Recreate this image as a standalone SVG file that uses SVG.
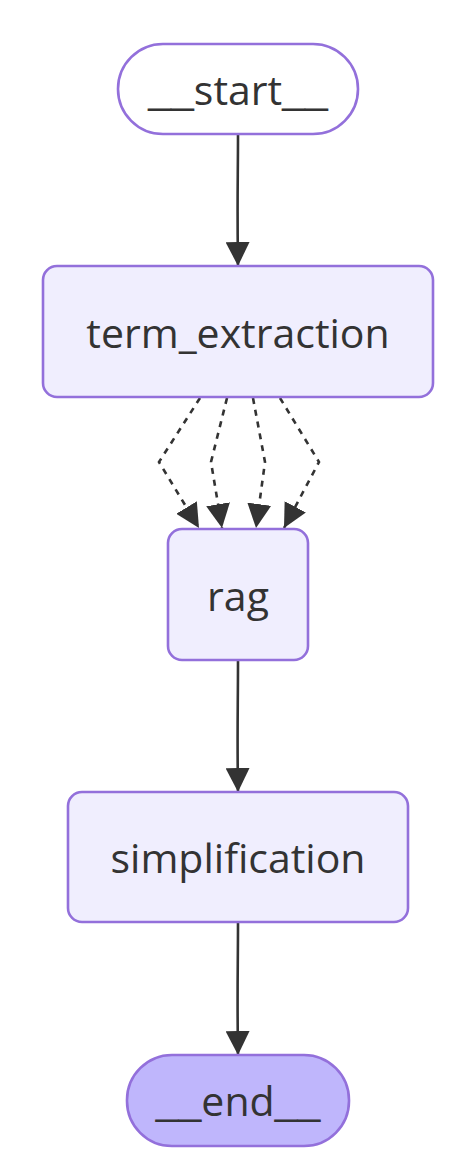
<svg xmlns="http://www.w3.org/2000/svg" width="471" height="1167" viewBox="0 0 471 1167">
<defs>
<style>
.node rect{fill:#f0eefe;stroke:#9370db;stroke-width:2.6}
.term rect{fill:#ffffff}
.end rect{fill:#bfb6fc}
.label{font-family:"Open Sans","Noto Sans",sans-serif;font-size:41px;fill:#333333;text-anchor:middle;dominant-baseline:central}
.us{font-family:"Liberation Sans",sans-serif}
.edge{fill:none;stroke:#333333;stroke-width:2.6}
.dash{stroke-dasharray:6 6}
</style>
<marker id="arrow" viewBox="0 0 10 10" refX="10" refY="5" markerUnits="userSpaceOnUse" markerWidth="24" markerHeight="24" orient="auto">
<path d="M0,0 L10,5 L0,10 z" fill="#333333"/>
</marker>
</defs>
<rect width="471" height="1167" fill="#ffffff"/>
<g id="connectors">
<path class="edge" d="M238,134 C238,180 237,200 238,266" marker-end="url(#arrow)"/>
<path class="edge dash" d="M200,398 L159,462 L199,528" marker-end="url(#arrow)"/>
<path class="edge dash" d="M227,398 L211,462 L222,528" marker-end="url(#arrow)"/>
<path class="edge dash" d="M253,398 L265,462 L256,528" marker-end="url(#arrow)"/>
<path class="edge dash" d="M280,398 L319,462 L284,528" marker-end="url(#arrow)"/>
<path class="edge" d="M238,660 C238,710 237,730 238,792" marker-end="url(#arrow)"/>
<path class="edge" d="M238,922 C238,970 237,990 238,1055" marker-end="url(#arrow)"/>
</g>
<g id="node-start" class="node term">
<rect x="118" y="44" width="240" height="90" rx="45" ry="45"/>
<text class="label" x="238" y="89"><tspan class="us">__</tspan>start<tspan class="us">__</tspan></text>
</g>
<g id="node-term_extraction" class="node">
<rect x="43" y="266" width="390" height="131" rx="14" ry="14"/>
<text class="label" x="238" y="332">term_extraction</text>
</g>
<g id="node-rag" class="node">
<rect x="168" y="529" width="140" height="131" rx="14" ry="14"/>
<text class="label" x="238" y="595">rag</text>
</g>
<g id="node-simplification" class="node">
<rect x="68" y="792" width="340" height="130" rx="14" ry="14"/>
<text class="label" x="238" y="857">simplification</text>
</g>
<g id="node-end" class="node end">
<rect x="127" y="1055" width="222" height="91" rx="45" ry="45"/>
<text class="label" x="238" y="1100"><tspan class="us">__</tspan>end<tspan class="us">__</tspan></text>
</g>
</svg>
